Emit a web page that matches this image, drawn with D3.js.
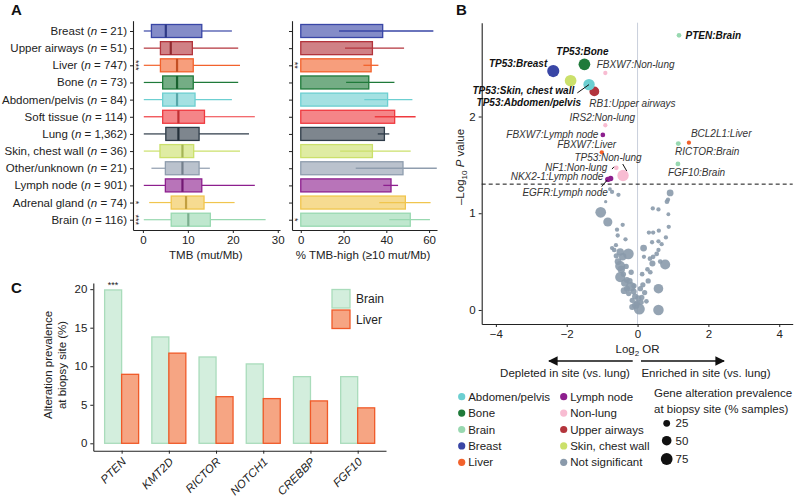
<!DOCTYPE html>
<html>
<head>
<meta charset="utf-8">
<script src="https://cdn.jsdelivr.net/npm/d3@7"></script>
<style>
body { margin: 0; background: #fff; }
svg { font-family: "Liberation Sans", Arial, sans-serif; }
</style>
</head>
<body>
<div id="chart"></div>
<script>
// ---- panel A data
const sites = ["Breast", "Upper airways", "Liver", "Bone", "Abdomen/pelvis", "Soft tissue", "Lung",
  "Skin, chest wall", "Other/unknown", "Lymph node", "Adrenal gland", "Brain"];
const siteN = ["21", "51", "747", "73", "84", "114", "1,362", "36", "21", "901", "74", "116"];
const tmbLow = [0.2, 0.2, 0.2, 0.2, 0.2, 0.2, 0.2, 0.2, 1.9, 0.2, 1.4, 0.2];
const tmbQ1 = [1.9, 3.9, 3.9, 4.4, 4.4, 4.4, 5.1, 3.8, 5.0, 5.0, 6.3, 6.3];
const tmbMedian = [5.1, 6.2, 7.6, 7.6, 7.6, 7.9, 7.9, 8.8, 8.8, 8.8, 9.6, 10.1];
const tmbQ3 = [13.1, 11.0, 11.2, 11.2, 11.6, 13.7, 12.5, 11.3, 12.5, 13.1, 13.6, 15.0];
const tmbHigh = [19.8, 21.2, 21.6, 21.2, 19.8, 24.9, 23.6, 21.6, 14.9, 24.9, 20.4, 27.3];
const tmbSig = ["", "", "***", "", "", "", "", "", "", "", "*", "***"];
const pctHigh = [38.3, 33.5, 32.9, 31.8, 40.6, 43.9, 39.1, 33.5, 47.8, 42.2, 48.9, 51.2];
const pctLow = [17.9, 20.7, 29.3, 21.2, 29.7, 34.6, 36.0, 18.4, 25.7, 38.6, 36.7, 41.4];
const pctUp = [62.0, 48.3, 36.3, 43.8, 52.2, 53.7, 41.4, 51.4, 63.6, 45.5, 60.7, 60.4];
const pctSig = ["", "", "**", "", "", "", "", "", "", "", "", "*"];

// ---- panel B data: significant hits [log2 OR, -log10 P, prevalence %]
const hitLabels = ["PTEN:Brain", "TP53:Breast", "TP53:Bone", "FBXW7:Non-lung", "TP53:Skin, chest wall",
  "RB1:Upper airways", "TP53:Abdomen/pelvis", "IRS2:Non-lung", "FBXW7:Lymph node", "FBXW7:Liver",
  "TP53:Non-lung", "NF1:Non-lung", "NKX2-1:Lymph node", "EGFR:Lymph node", "BCL2L1:Liver",
  "RICTOR:Brain", "FGF10:Brain"];
const hitSite = ["Brain", "Breast", "Bone", "Non-lung", "Skin, chest wall", "Upper airways", "Abdomen/pelvis",
  "Non-lung", "Lymph node", "Liver", "Non-lung", "Non-lung", "Lymph node", "Lymph node", "Liver", "Brain", "Brain"];
const hitLog2OR = [1.17, -2.38, -1.50, -0.91, -1.89, -1.22, -1.37, -0.91, -0.98, -1.01, -0.41, -0.60, -0.76, -0.84, 1.45, 1.15, 1.14];
const hitLogP = [2.84, 2.47, 2.54, 2.45, 2.37, 2.26, 2.33, 1.91, 1.81, 1.63, 1.39, 1.47, 1.36, 1.35, 1.73, 1.72, 1.51];
const hitPrev = [12, 80, 74, 10, 74, 52, 70, 10, 12, 10, 70, 12, 16, 16, 10, 13, 13];
const hitBold = ["PTEN:Brain", "TP53:Breast", "TP53:Bone", "TP53:Skin, chest wall", "TP53:Abdomen/pelvis"];

// not significant genes [log2 OR, -log10 P, prevalence %]
const nsPoints = [
  [-0.78, 1.25, 8], [-0.72, 1.22, 10], [-0.54, 1.19, 10], [-0.90, 1.12, 6], [-1.04, 1.01, 62],
  [-0.84, 0.91, 45], [-0.42, 0.88, 10], [-0.58, 0.83, 10], [-0.56, 0.77, 10], [-0.34, 0.73, 10],
  [-0.61, 0.67, 10], [-0.72, 0.64, 10], [-0.49, 0.60, 30], [-0.26, 0.58, 62], [-0.42, 0.55, 30],
  [-0.66, 0.62, 12], [-0.55, 0.50, 25], [-0.49, 0.455, 55], [-0.46, 0.42, 30], [-0.18, 0.39, 15],
  [-0.49, 0.34, 55], [-0.30, 0.31, 20], [-0.36, 0.28, 30], [-0.19, 0.24, 50], [-0.11, 0.19, 20],
  [-0.07, 0.14, 20], [-0.25, 0.17, 15], [-0.02, 0.07, 20], [0.05, 0.01, 65], [-0.15, 0.10, 15],
  [-0.30, 0.22, 20], [-0.40, 0.37, 15], [-0.22, 0.30, 18], [-0.10, 0.25, 15], [-0.05, 0.05, 30],
  [-0.15, 0.03, 20], [0.10, 0.08, 15], [-0.32, 0.45, 15], [-0.60, 0.56, 15], [-0.38, 0.20, 25],
  [0.92, 1.21, 25], [0.86, 1.14, 10], [0.83, 1.12, 12], [0.43, 1.05, 10], [0.59, 1.04, 10],
  [0.87, 0.99, 8], [0.88, 0.86, 10], [0.32, 0.80, 10], [0.44, 0.80, 10], [0.60, 0.82, 10],
  [0.80, 0.75, 10], [0.41, 0.70, 10], [0.59, 0.71, 10], [0.68, 0.68, 10], [0.17, 0.64, 25],
  [0.59, 0.62, 10], [0.18, 0.55, 10], [0.44, 0.55, 12], [0.54, 0.58, 12], [0.35, 0.53, 12],
  [0.64, 0.50, 12], [0.78, 0.47, 55], [0.42, 0.48, 20], [0.28, 0.42, 12], [0.36, 0.39, 12],
  [0.13, 0.37, 12], [0.30, 0.30, 15], [0.15, 0.26, 15], [0.08, 0.22, 15], [0.20, 0.18, 15],
  [0.12, 0.13, 15], [0.59, 0.22, 50], [0.59, 0.00, 60], [0.02, 0.12, 20], [0.25, 0.09, 12]
];

// ---- panel C data
const genes = ["PTEN", "KMT2D", "RICTOR", "NOTCH1", "CREBBP", "FGF10"];
const brainPrev = [19.9, 13.8, 11.2, 10.3, 8.65, 8.65];
const liverPrev = [8.95, 11.7, 6.05, 5.8, 5.5, 4.6];

// ---- colours
const siteColor = {
  "Breast": "#3946a6", "Upper airways": "#b3343c", "Liver": "#f2622c", "Bone": "#1f7a3a",
  "Abdomen/pelvis": "#6ccfd1", "Soft tissue": "#ef3a3f", "Lung": "#2e3b48", "Skin, chest wall": "#cbe06b",
  "Other/unknown": "#8f9dae", "Lymph node": "#8d1f8e", "Adrenal gland": "#f0c54e", "Brain": "#98d8b0",
  "Non-lung": "#f8bcd2", "Not significant": "#8a9aab"
};

const svg = d3.select("#chart").append("svg")
  .attr("width", 795).attr("height", 500);
svg.append("rect").attr("width", 795).attr("height", 500).attr("fill", "#fff");

const axisColor = "#222";
function styleAxis(g) {
  g.selectAll("path.domain").attr("stroke", axisColor).attr("stroke-width", 1.1);
  g.selectAll(".tick line").attr("stroke", axisColor);
  g.selectAll(".tick text").attr("fill", "#222").attr("font-size", 11.5)
    .attr("font-family", "Liberation Sans, Arial, sans-serif");
}
function panelLetter(t, x, y) {
  svg.append("text").attr("x", x).attr("y", y).text(t)
    .attr("font-size", 15).attr("font-weight", "bold").attr("fill", "#111");
}

// =============== Panel A
panelLetter("A", 11, 15);
const yA = d3.scalePoint().domain(sites).range([20.7, 230]).padding(0.6);
const xTmb = d3.scaleLinear().domain([-2.2, 30.5]).range([133, 280]);
const xHigh = d3.scaleLinear().domain([-4.1, 63.7]).range([292, 437]);
const boxH = 13;
const boxAlpha = 0.62;

// left axes
const gA = svg.append("g");
gA.append("g").attr("transform", "translate(133,0)")
  .call(d3.axisLeft(yA).tickSize(3).tickSizeOuter(0).tickFormat(""))
  .call(styleAxis);
gA.append("g").attr("transform", "translate(0,230)")
  .call(d3.axisBottom(xTmb).tickValues([0, 10, 20, 30]).tickSize(3).tickSizeOuter(0))
  .call(styleAxis);

// site labels
const lab = gA.append("g").attr("font-size", 11.5).attr("fill", "#222").attr("text-anchor", "end");
sites.forEach((s, i) => {
  const t = lab.append("text").attr("x", 127).attr("y", yA(s)).attr("dy", "0.35em");
  t.append("tspan").text(s + " (");
  t.append("tspan").attr("font-style", "italic").text("n");
  t.append("tspan").text(" = " + siteN[i] + ")");
});

// boxplots
sites.forEach((s, i) => {
  const c = siteColor[s], y = yA(s);
  const g = gA.append("g");
  g.append("line").attr("x1", xTmb(tmbLow[i])).attr("x2", xTmb(tmbQ1[i]))
    .attr("y1", y).attr("y2", y).attr("stroke", c).attr("stroke-width", 1.2);
  g.append("line").attr("x1", xTmb(tmbQ3[i])).attr("x2", xTmb(tmbHigh[i]))
    .attr("y1", y).attr("y2", y).attr("stroke", c).attr("stroke-width", 1.2);
  g.append("rect").attr("x", xTmb(tmbQ1[i])).attr("y", y - boxH / 2)
    .attr("width", xTmb(tmbQ3[i]) - xTmb(tmbQ1[i])).attr("height", boxH)
    .attr("fill", c).attr("fill-opacity", boxAlpha).attr("stroke", c).attr("stroke-width", 1.3);
  g.append("line").attr("x1", xTmb(tmbMedian[i])).attr("x2", xTmb(tmbMedian[i]))
    .attr("y1", y - boxH / 2).attr("y2", y + boxH / 2)
    .attr("stroke", d3.color(c).darker(0.6)).attr("stroke-width", 2.2);
  if (tmbSig[i]) {
    g.append("text").attr("transform", `translate(136,${y}) rotate(90)`)
      .attr("text-anchor", "middle").attr("dy", "0.35em").attr("font-size", 9).attr("fill", "#222")
      .text(tmbSig[i]);
  }
});
gA.append("text").attr("x", xTmb(14)).attr("y", 259).attr("text-anchor", "middle")
  .attr("font-size", 11.5).attr("fill", "#222").text("TMB (mut/Mb)");

// right: % TMB-high
const gA2 = svg.append("g");
gA2.append("g").attr("transform", "translate(292,0)")
  .call(d3.axisLeft(yA).tickSize(3).tickSizeOuter(0).tickFormat(""))
  .call(styleAxis);
gA2.append("g").attr("transform", "translate(0,230)")
  .call(d3.axisBottom(xHigh).tickValues([0, 20, 40, 60]).tickSize(3).tickSizeOuter(0))
  .call(styleAxis);
sites.forEach((s, i) => {
  const c = siteColor[s], y = yA(s);
  gA2.append("rect").attr("x", xHigh(0)).attr("y", y - boxH / 2)
    .attr("width", xHigh(pctHigh[i]) - xHigh(0)).attr("height", boxH)
    .attr("fill", c).attr("fill-opacity", boxAlpha).attr("stroke", c).attr("stroke-width", 1.3);
  gA2.append("line").attr("x1", xHigh(pctLow[i])).attr("x2", Math.min(437, xHigh(pctUp[i])))
    .attr("y1", y).attr("y2", y).attr("stroke", c).attr("stroke-width", 1.3);
  if (pctSig[i]) {
    gA2.append("text").attr("transform", `translate(295.5,${y}) rotate(90)`)
      .attr("text-anchor", "middle").attr("dy", "0.35em").attr("font-size", 9).attr("fill", "#222")
      .text(pctSig[i]);
  }
});
gA2.append("text").attr("x", 363).attr("y", 259).attr("text-anchor", "middle")
  .attr("font-size", 11.5).attr("fill", "#222").text("% TMB-high (\u226510 mut/Mb)");

// =============== Panel B: volcano
panelLetter("B", 456, 15);
const xV = d3.scaleLinear().domain([-4.4, 4.38]).range([481.7, 792.7]);
const yV = d3.scaleLinear().domain([-0.145, 2.97]).range([324, 22.7]);
const rV = p => 0.68 * Math.sqrt(p);
const gB = svg.append("g");

gB.append("line").attr("x1", xV(0)).attr("x2", xV(0)).attr("y1", yV.range()[1]).attr("y2", yV.range()[0])
  .attr("stroke", "#c9cfdc").attr("stroke-width", 1);
gB.append("line").attr("x1", xV.range()[0]).attr("x2", xV.range()[1])
  .attr("y1", yV(-Math.log10(0.05))).attr("y2", yV(-Math.log10(0.05)))
  .attr("stroke", "#111").attr("stroke-width", 1).attr("stroke-dasharray", "4,3");

gB.append("g").attr("transform", "translate(481.7,0)")
  .call(d3.axisLeft(yV).tickValues([0, 1, 2]).tickSize(3).tickSizeOuter(0).tickFormat(d3.format("d")))
  .call(styleAxis);
gB.append("g").attr("transform", "translate(0,324)")
  .call(d3.axisBottom(xV).tickValues([-4, -2, 0, 2, 4]).tickSize(3).tickSizeOuter(0)
    .tickFormat(d => d < 0 ? "\u2212" + Math.abs(d) : d))
  .call(styleAxis);

// points
gB.append("g").selectAll("circle").data(nsPoints).join("circle")
  .attr("cx", d => xV(d[0])).attr("cy", d => yV(d[1])).attr("r", d => rV(d[2]))
  .attr("fill", siteColor["Not significant"]).attr("fill-opacity", 0.9);

const hits = hitLabels.map((l, i) => ({
  label: l, site: hitSite[i], x: hitLog2OR[i], y: hitLogP[i], p: hitPrev[i],
  bold: hitBold.includes(l)
}));
gB.append("g").selectAll("circle").data(hits).join("circle")
  .attr("cx", d => xV(d.x)).attr("cy", d => yV(d.y)).attr("r", d => rV(d.p))
  .attr("fill", d => siteColor[d.site]);

// label placement (pixel offsets from the point)
const labelLayout = {
  "PTEN:Brain": { dx: 6.5, dy: 3.5, a: "start" },
  "TP53:Breast": { dx: -6, dy: -4, a: "end" },
  "TP53:Bone": { dx: -2, dy: -9.5, a: "middle" },
  "FBXW7:Non-lung": { dx: -8.6, dy: -5, a: "start" },
  "TP53:Skin, chest wall": { dx: 3.6, dy: 13.5, a: "end" },
  "RB1:Upper airways": { dx: -5, dy: 15.7, a: "start" },
  "TP53:Abdomen/pelvis": { dx: -8, dy: 21, a: "end", seg: [-11.7, 8.3, 0, 0] },
  "IRS2:Non-lung": { dx: -3, dy: -4.6, a: "middle" },
  "FBXW7:Lymph node": { dx: -4.4, dy: 2.6, a: "end" },
  "FBXW7:Liver": { dx: 14.3, dy: -4, a: "end" },
  "TP53:Non-lung": { dx: -15, dy: -15, a: "middle", seg: [-0.3, -11.5, 3.7, -4.5] },
  "NF1:Non-lung": { dx: -9, dy: 2.8, a: "end", seg: [-4.3, 1.3, -2.3, -1] },
  "NKX2-1:Lymph node": { dx: -7.3, dy: 1.8, a: "end" },
  "EGFR:Lymph node": { dx: 0, dy: 17, a: "end", seg: [-6.1, 7.2, -0.5, 0.5] },
  "BCL2L1:Liver": { dx: 2, dy: -5.5, a: "start" },
  "RICTOR:Brain": { dx: -3.3, dy: 11.7, a: "start" },
  "FGF10:Brain": { dx: -10, dy: 11.7, a: "start" }
};
hits.forEach(d => {
  const L = labelLayout[d.label], px = xV(d.x), py = yV(d.y);
  if (L.seg) {
    gB.append("line").attr("x1", px + L.seg[0]).attr("y1", py + L.seg[1])
      .attr("x2", px + L.seg[2]).attr("y2", py + L.seg[3])
      .attr("stroke", "#111").attr("stroke-width", 1);
  }
  gB.append("text").attr("x", px + L.dx).attr("y", py + L.dy).attr("text-anchor", L.a)
    .attr("font-size", 10).attr("font-style", "italic")
    .attr("font-weight", d.bold ? "bold" : "normal")
    .attr("fill", d.bold ? "#111" : "#333").text(d.label);
});

// axis titles
const yt = gB.append("text").attr("transform", "translate(464,167) rotate(-90)")
  .attr("text-anchor", "middle").attr("font-size", 11.5).attr("fill", "#222");
yt.append("tspan").text("\u2013Log");
yt.append("tspan").attr("font-size", 8).attr("dy", 3).text("10");
yt.append("tspan").attr("dy", -3).text(" ");
yt.append("tspan").attr("font-style", "italic").text("P");
yt.append("tspan").text(" value");

const xt = gB.append("text").attr("x", xV(0)).attr("y", 353).attr("text-anchor", "middle")
  .attr("font-size", 11.5).attr("fill", "#222");
xt.append("tspan").text("Log");
xt.append("tspan").attr("font-size", 8).attr("dy", 3).text("2");
xt.append("tspan").attr("dy", -3).text(" OR");

// direction arrows
const defs = svg.append("defs");
defs.append("marker").attr("id", "ah").attr("viewBox", "0 0 10 10").attr("refX", 9).attr("refY", 5)
  .attr("markerWidth", 6).attr("markerHeight", 6).attr("orient", "auto-start-reverse")
  .append("path").attr("d", "M0,0 L10,5 L0,10 z").attr("fill", "#111");
gB.append("line").attr("x1", 632.7).attr("x2", 549).attr("y1", 361).attr("y2", 361)
  .attr("stroke", "#111").attr("stroke-width", 1.6).attr("marker-end", "url(#ah)");
gB.append("line").attr("x1", 641).attr("x2", 724).attr("y1", 361).attr("y2", 361)
  .attr("stroke", "#111").attr("stroke-width", 1.6).attr("marker-end", "url(#ah)");
gB.append("text").attr("x", 565).attr("y", 377).attr("text-anchor", "middle")
  .attr("font-size", 11.5).attr("fill", "#222").text("Depleted in site (vs. lung)");
gB.append("text").attr("x", 706).attr("y", 377).attr("text-anchor", "middle")
  .attr("font-size", 11.5).attr("fill", "#222").text("Enriched in site (vs. lung)");

// colour legend
const legCol1 = ["Abdomen/pelvis", "Bone", "Brain", "Breast", "Liver"];
const legCol2 = ["Lymph node", "Non-lung", "Upper airways", "Skin, chest wall", "Not significant"];
[[legCol1, 461.7], [legCol2, 563.7]].forEach(([items, x0]) => {
  items.forEach((s, i) => {
    const y = 396.7 + i * 16.4;
    gB.append("circle").attr("cx", x0).attr("cy", y).attr("r", 3.6).attr("fill", siteColor[s]);
    gB.append("text").attr("x", x0 + 6.5).attr("y", y).attr("dy", "0.35em")
      .attr("font-size", 11.5).attr("fill", "#222").text(s);
  });
});
// size legend
gB.append("text").attr("x", 654).attr("y", 397).attr("font-size", 11.5).attr("fill", "#222")
  .text("Gene alteration prevalence");
gB.append("text").attr("x", 654).attr("y", 413).attr("font-size", 11.5).attr("fill", "#222")
  .text("at biopsy site (% samples)");
[25, 50, 75].forEach((p, i) => {
  const y = [423.3, 440.7, 459][i];
  gB.append("circle").attr("cx", 666.7).attr("cy", y).attr("r", rV(p)).attr("fill", "#111");
  gB.append("text").attr("x", 675.5).attr("y", y).attr("dy", "0.35em")
    .attr("font-size", 11.5).attr("fill", "#222").text(p);
});

// =============== Panel C
panelLetter("C", 11, 293);
const xC = d3.scalePoint().domain(genes).range([93.3, 386]).padding(0.6);
const yC = d3.scaleLinear().domain([-0.96, 20.8]).range([450.7, 283]);
const bw = 17;
const gC = svg.append("g");
gC.append("g").attr("transform", "translate(93.3,0)")
  .call(d3.axisLeft(yC).tickValues([0, 5, 10, 15, 20]).tickSize(3).tickSizeOuter(0))
  .call(styleAxis);
const xAxC = gC.append("g").attr("transform", "translate(0,450.7)")
  .call(d3.axisBottom(xC).tickSize(3).tickSizeOuter(0))
  .call(styleAxis);
xAxC.selectAll(".tick text").attr("font-style", "italic").attr("text-anchor", "end")
  .attr("x", 0).attr("y", 0).attr("dy", "0.71em")
  .attr("transform", "translate(-1,6) rotate(-45)");

gC.selectAll("rect.brain").data(genes).join("rect").attr("class", "brain")
  .attr("x", d => xC(d) - bw).attr("width", bw)
  .attr("y", (d, i) => yC(brainPrev[i])).attr("height", (d, i) => yC(0) - yC(brainPrev[i]))
  .attr("fill", "#d3eedd").attr("stroke", "#a9dcbb").attr("stroke-width", 1.3);
gC.selectAll("rect.liver").data(genes).join("rect").attr("class", "liver")
  .attr("x", d => xC(d)).attr("width", bw)
  .attr("y", (d, i) => yC(liverPrev[i])).attr("height", (d, i) => yC(0) - yC(liverPrev[i]))
  .attr("fill", "#f6a583").attr("stroke", "#f05a28").attr("stroke-width", 1.3);
gC.append("text").attr("x", xC("PTEN") - bw / 2).attr("y", yC(brainPrev[0]) - 1.5)
  .attr("text-anchor", "middle").attr("font-size", 9).attr("fill", "#222").text("***");

const ytC = gC.append("text").attr("transform", "translate(52,365) rotate(-90)")
  .attr("text-anchor", "middle").attr("font-size", 11.5).attr("fill", "#222");
ytC.append("tspan").attr("x", 0).attr("dy", 0).text("Alteration prevalence");
ytC.append("tspan").attr("x", 0).attr("dy", 13.5).text("at biopsy site (%)");

// legend C
[["Brain", "#d3eedd", "#a9dcbb"], ["Liver", "#f6a583", "#f05a28"]].forEach(([k, f, s], i) => {
  const y = 289.5 + i * 20.5;
  gC.append("rect").attr("x", 332).attr("y", y).attr("width", 18).attr("height", 18.5)
    .attr("fill", f).attr("stroke", s).attr("stroke-width", 1.3);
  gC.append("text").attr("x", 356).attr("y", y + 9.5).attr("dy", "0.35em")
    .attr("font-size", 12).attr("fill", "#222").text(k);
});
</script>
</body>
</html>
